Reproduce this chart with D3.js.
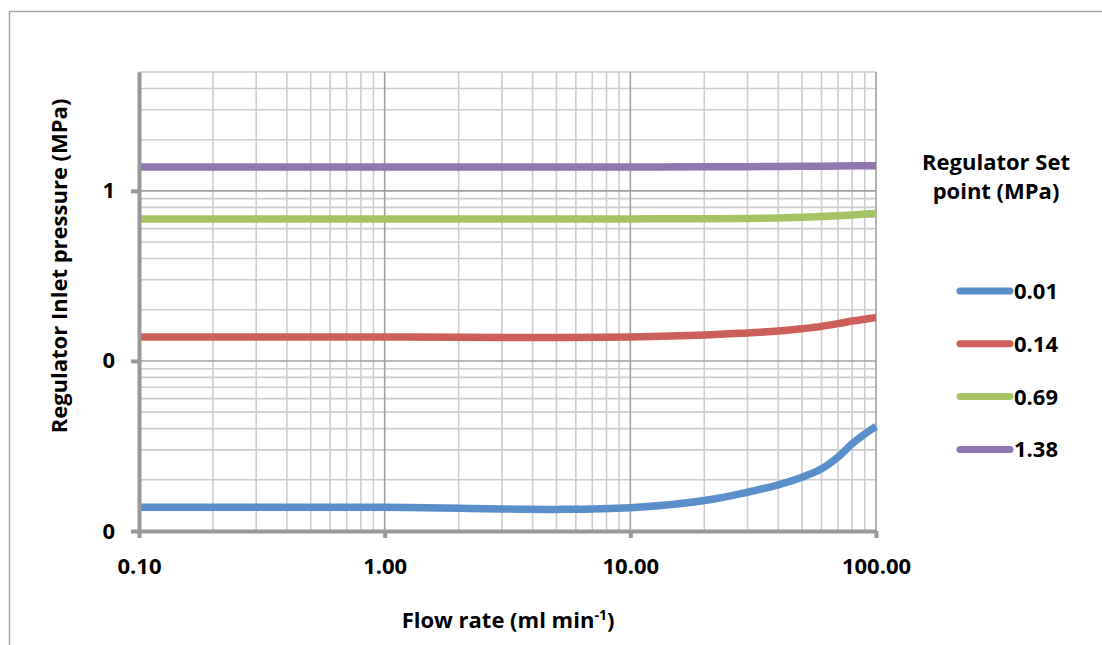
<!DOCTYPE html>
<html>
<head>
<meta charset="utf-8">
<script src="https://cdn.jsdelivr.net/npm/d3@7"></script>
<style>
  html, body { margin: 0; padding: 0; background: #fff; }
  svg { display: block; font-family: "Open Sans", "DejaVu Sans", sans-serif; font-weight: bold; }
</style>
</head>
<body>
<svg id="chart" width="1102" height="645"></svg>
<script>
// Flow rate (ml/min) at which inlet pressure was recorded
const flowRates = [0.1, 0.2, 0.5, 1, 2, 5, 10, 20, 30, 40, 50, 60, 70, 80, 90, 100];

// Regulator set points (legend entries)
const setPoints = ["0.01", "0.14", "0.69", "1.38"];

// Inlet pressure (MPa) for each set point
const inlet001 = [0.0138, 0.0138, 0.0138, 0.0138, 0.0136, 0.0134, 0.0137, 0.0151, 0.0169, 0.0187, 0.0207, 0.0232, 0.0272, 0.0326, 0.0372, 0.0412];
const inlet014 = [0.1382, 0.1382, 0.1382, 0.1382, 0.1378, 0.1374, 0.1385, 0.1420, 0.1462, 0.1498, 0.1548, 0.1597, 0.1657, 0.1716, 0.1760, 0.1797];
const inlet069 = [0.684, 0.684, 0.684, 0.684, 0.684, 0.684, 0.684, 0.686, 0.689, 0.693, 0.699, 0.706, 0.714, 0.722, 0.730, 0.737];
const inlet138 = [1.382, 1.382, 1.382, 1.382, 1.382, 1.382, 1.382, 1.385, 1.388, 1.391, 1.394, 1.397, 1.400, 1.403, 1.405, 1.407];

// Axis ticks
const xTicks = [0.1, 1, 10, 100];
const yTicks = [0.01, 0.1, 1];

const seriesColors = ["#5b8fc9", "#cd5f5a", "#a7c464", "#9177b0"];
const seriesValues = [inlet001, inlet014, inlet069, inlet138];

const svg = d3.select("#chart");

// outer chart frame
svg.append("rect")
  .attr("x", 9.5).attr("y", 11.5)
  .attr("width", 1200).attr("height", 700)
  .attr("fill", "none").attr("stroke", "#a6a6a6").attr("stroke-width", 1.5);

const plot = { left: 139, right: 876, top: 72, bottom: 531 };

const x = d3.scaleLog().domain([0.1, 100]).range([plot.left, plot.right]);
const y = d3.scaleLog().domain([0.01, 5]).range([plot.bottom, plot.top]);

// minor and major grid values from the log scales
const xMinor = [];
for (let d = 0.1; d < 100; d *= 10) for (let m = 2; m <= 9; m++) xMinor.push(+(d * m).toPrecision(3));
const yMinor = [];
for (let d = 0.01; d < 5; d *= 10) for (let m = 2; m <= 9; m++) {
  const v = +(d * m).toPrecision(3);
  if (v <= 5) yMinor.push(v);
}

const grid = svg.append("g");
grid.selectAll(".vminor").data(xMinor).join("line")
  .attr("x1", d => x(d)).attr("x2", d => x(d))
  .attr("y1", plot.top).attr("y2", plot.bottom)
  .attr("stroke", "#cdcdcd").attr("stroke-width", 1.6);
grid.selectAll(".hminor").data(yMinor).join("line")
  .attr("x1", plot.left).attr("x2", plot.right)
  .attr("y1", d => y(d)).attr("y2", d => y(d))
  .attr("stroke", "#cdcdcd").attr("stroke-width", 1.6);
grid.selectAll(".vmajor").data(xTicks).join("line")
  .attr("x1", d => x(d)).attr("x2", d => x(d))
  .attr("y1", plot.top).attr("y2", plot.bottom)
  .attr("stroke", "#a0a0a0").attr("stroke-width", 1.6);
grid.selectAll(".hmajor").data(yTicks).join("line")
  .attr("x1", plot.left).attr("x2", plot.right)
  .attr("y1", d => y(d)).attr("y2", d => y(d))
  .attr("stroke", "#a0a0a0").attr("stroke-width", 1.6);

// series lines, smoothed
const line = d3.line()
  .x(d => x(d[0]))
  .y(d => y(d[1]))
  .curve(d3.curveCatmullRom.alpha(0.5));

svg.append("g").selectAll("path")
  .data(seriesValues.map(vals => flowRates.map((f, i) => [f, vals[i]])))
  .join("path")
  .attr("d", line)
  .attr("fill", "none")
  .attr("stroke", (d, i) => seriesColors[i])
  .attr("stroke-width", 7.5)
  .attr("stroke-linecap", "butt");

// axes
const xAxis = d3.axisBottom(x).tickValues(xTicks).tickFormat(d3.format(".2f"))
  .tickSize(7).tickSizeOuter(0).tickPadding(20);
const yAxis = d3.axisLeft(y).tickValues(yTicks).tickFormat(d3.format(".0f"))
  .tickSize(8).tickSizeOuter(0).tickPadding(16);

function styleAxis(g) {
  g.select(".domain").attr("stroke", "#999").attr("stroke-width", 4);
  g.selectAll(".tick line").attr("stroke", "#999").attr("stroke-width", 4);
  g.selectAll(".tick text").attr("fill", "#000")
    .style("font-family", "'Open Sans', sans-serif")
    .style("font-weight", "bold").style("font-size", "22px");
}

svg.append("g").attr("transform", `translate(0,${plot.bottom})`).call(xAxis).call(styleAxis);
svg.append("g").attr("transform", `translate(${plot.left},0)`).call(yAxis).call(styleAxis);

// axis titles
const xTitle = svg.append("text")
  .attr("x", 508).attr("y", 628)
  .attr("text-anchor", "middle")
  .style("font-size", "22px");
xTitle.append("tspan").text("Flow rate (ml min");
xTitle.append("tspan").attr("dy", -8).style("font-size", "14px").text("-1");
xTitle.append("tspan").attr("dy", 8).text(")");

svg.append("text")
  .attr("transform", "translate(67,266) rotate(-90)")
  .attr("text-anchor", "middle")
  .style("font-size", "22px")
  .text("Regulator Inlet pressure (MPa)");

// legend
const legend = svg.append("g");
legend.append("text").attr("x", 996).attr("y", 170).attr("text-anchor", "middle")
  .style("font-size", "22px").text("Regulator Set");
legend.append("text").attr("x", 996).attr("y", 199).attr("text-anchor", "middle")
  .style("font-size", "22px").text("point (MPa)");

const items = legend.selectAll(".item").data(setPoints).join("g")
  .attr("transform", (d, i) => `translate(0,${291 + i * 52.8})`);
items.append("line")
  .attr("x1", 960).attr("x2", 1010).attr("y1", 0).attr("y2", 0)
  .attr("stroke", (d, i) => seriesColors[i])
  .attr("stroke-width", 7).attr("stroke-linecap", "round");
items.append("text")
  .attr("x", 1014).attr("y", 8)
  .style("font-size", "22px")
  .text(d => d);
</script>
</body>
</html>
